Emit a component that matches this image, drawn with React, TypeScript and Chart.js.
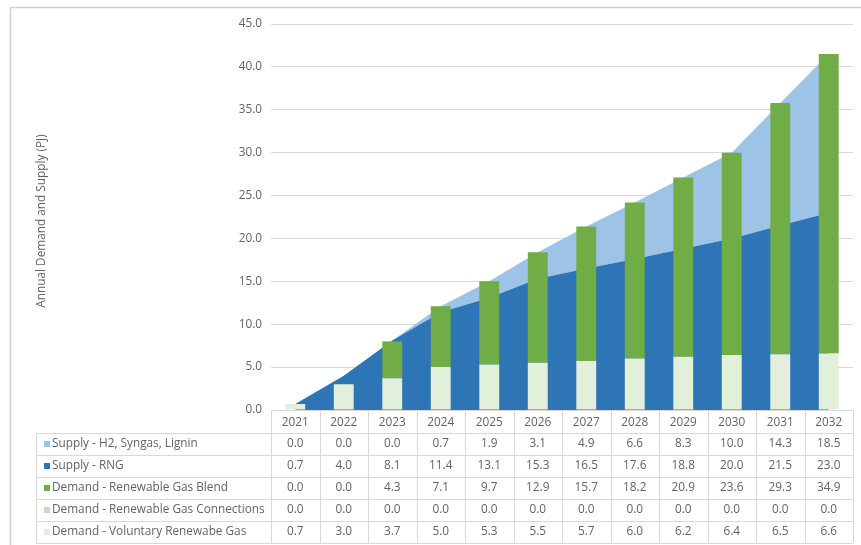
import React, { useEffect, useRef } from "react";
import { Chart, registerables } from "chart.js";

Chart.register(...registerables);

const years = ["2021", "2022", "2023", "2024", "2025", "2026", "2027", "2028", "2029", "2030", "2031", "2032"];
const supplyH2 = [0.0, 0.0, 0.0, 0.7, 1.9, 3.1, 4.9, 6.6, 8.3, 10.0, 14.3, 18.5];
const supplyRNG = [0.7, 4.0, 8.1, 11.4, 13.1, 15.3, 16.5, 17.6, 18.8, 20.0, 21.5, 23.0];
const demandBlend = [0.0, 0.0, 4.3, 7.1, 9.7, 12.9, 15.7, 18.2, 20.9, 23.6, 29.3, 34.9];
const demandConnections = [0.0, 0.0, 0.0, 0.0, 0.0, 0.0, 0.0, 0.0, 0.0, 0.0, 0.0, 0.0];
const demandVoluntary = [0.7, 3.0, 3.7, 5.0, 5.3, 5.5, 5.7, 6.0, 6.2, 6.4, 6.5, 6.6];

const labelH2 = "Supply - H2, Syngas, Lignin";
const labelRNG = "Supply - RNG";
const labelBlend = "Demand - Renewable Gas Blend";
const labelConn = "Demand - Renewable Gas Connections";
const labelVol = "Demand - Voluntary Renewabe Gas";
const yTitle = "Annual Demand and Supply (PJ)";

const C_H2 = "#9dc3e6";
const C_RNG = "#2e75b6";
const C_BLEND = "#70ad47";
const C_CONN = "#c5e0b4";
const C_VOL = "#e2efda";
const TEXT = "#636363";
const GRID = "#d9d9d9";
const FONT = "'Open Sans', 'DejaVu Sans', sans-serif";
const FS = 11.8;

const tableRows = [
  { label: labelH2, color: C_H2, values: supplyH2 },
  { label: labelRNG, color: C_RNG, values: supplyRNG },
  { label: labelBlend, color: C_BLEND, values: demandBlend },
  { label: labelConn, color: C_CONN, values: demandConnections },
  { label: labelVol, color: C_VOL, values: demandVoluntary },
];

const tablePlugin = {
  id: "dataTable",
  afterDraw(chart: any) {
    const ctx = chart.ctx;
    const area = chart.chartArea;
    const xs = chart.scales.x;
    const W = chart.width;
    const H = chart.height;
    const n = years.length;
    const colW = (area.right - area.left) / n;
    ctx.save();
    // frame
    ctx.strokeStyle = "#d0d0d0";
    ctx.lineWidth = 1.5;
    ctx.beginPath();
    ctx.moveTo(10.5, H);
    ctx.lineTo(10.5, 7.5);
    ctx.lineTo(W, 7.5);
    ctx.stroke();

    // y title
    ctx.fillStyle = TEXT;
    ctx.font = `${FS}px ${FONT}`;
    ctx.textAlign = "center";
    ctx.textBaseline = "middle";
    ctx.save();
    ctx.translate(42, (area.top + area.bottom) / 2 + 4);
    ctx.rotate(-Math.PI / 2);
    ctx.fillText(yTitle, 0, 0);
    ctx.restore();

    // table
    const headTop = area.bottom;
    const headBottom = headTop + 23;
    const rowH = 22;
    const tableLeft = 36;
    const tableBottom = headBottom + rowH * tableRows.length;
    ctx.strokeStyle = GRID;
    ctx.lineWidth = 1;
    ctx.beginPath();
    ctx.moveTo(area.left, Math.round(headTop) + 0.5);
    ctx.lineTo(area.right, Math.round(headTop) + 0.5);
    for (let r = 0; r <= tableRows.length; r++) {
      const y = Math.round(headBottom + r * rowH) + 0.5;
      ctx.moveTo(tableLeft, y);
      ctx.lineTo(area.right, y);
    }
    ctx.moveTo(tableLeft + 0.5, headBottom);
    ctx.lineTo(tableLeft + 0.5, tableBottom);
    for (let i = 0; i <= n; i++) {
      const x = Math.round(area.left + i * colW) + 0.5;
      ctx.moveTo(x, headTop);
      ctx.lineTo(x, tableBottom);
    }
    ctx.stroke();

    ctx.fillStyle = TEXT;
    ctx.font = `${FS}px ${FONT}`;
    ctx.textAlign = "center";
    ctx.textBaseline = "middle";
    for (let i = 0; i < n; i++) {
      const cx = xs.getPixelForValue(i);
      ctx.fillText(years[i], cx, (headTop + headBottom) / 2 + 1);
    }
    tableRows.forEach((row, r) => {
      const cy = headBottom + r * rowH + rowH / 2;
      ctx.fillStyle = row.color;
      ctx.fillRect(44, cy - 3, 6, 6);
      ctx.fillStyle = TEXT;
      ctx.textAlign = "left";
      ctx.fillText(row.label, 52, cy);
      ctx.textAlign = "center";
      row.values.forEach((v, i) => {
        ctx.fillText(v.toFixed(1), xs.getPixelForValue(i), cy);
      });
    });
    ctx.restore();
  },
};

export default function App() {
  const ref = useRef<HTMLCanvasElement>(null);
  useEffect(() => {
    if (!ref.current) return;
    const chart = new Chart(ref.current, {
      type: "bar",
      data: {
        labels: years,
        datasets: [
          { type: "bar", label: labelVol, data: demandVoluntary, backgroundColor: C_VOL, stack: "demand", order: 0 },
          { type: "bar", label: labelConn, data: demandConnections, backgroundColor: C_CONN, stack: "demand", order: 0 },
          { type: "bar", label: labelBlend, data: demandBlend, backgroundColor: C_BLEND, stack: "demand", order: 0 },
          {
            type: "line", label: labelRNG, data: supplyRNG, backgroundColor: C_RNG, borderColor: C_RNG,
            borderWidth: 0, pointRadius: 0, fill: "origin", tension: 0, stack: "supply", order: 1,
          },
          {
            type: "line", label: labelH2, data: supplyH2, backgroundColor: C_H2, borderColor: C_H2,
            borderWidth: 0, pointRadius: 0, fill: "-1", tension: 0, stack: "supply", order: 1,
          },
        ] as any,
      },
      options: {
        responsive: false,
        animation: false,
        devicePixelRatio: 1,
        layout: { padding: { left: 10, right: 8, top: 24, bottom: 135 } },
        datasets: { bar: { barPercentage: 0.41, categoryPercentage: 1 } } as any,
        plugins: { legend: { display: false }, tooltip: { enabled: false } },
        scales: {
          x: { display: false, stacked: true, offset: true },
          y: {
            stacked: true,
            min: 0,
            max: 45,
            afterFit: (s: any) => { s.width = 261; },
            ticks: {
              stepSize: 5,
              padding: 9,
              color: TEXT,
              font: { family: FONT, size: FS },
              callback: (v: any) => Number(v).toFixed(1),
            },
            grid: { color: GRID, drawTicks: false },
            border: { display: false },
          },
        },
      },
      plugins: [tablePlugin],
    });
    return () => chart.destroy();
  }, []);
  return (
    <div style={{ position: "fixed", left: 0, top: 0, width: 861, height: 545, background: "#fff" }}>
      <canvas ref={ref} width={861} height={545} style={{ display: "block" }} />
    </div>
  );
}
